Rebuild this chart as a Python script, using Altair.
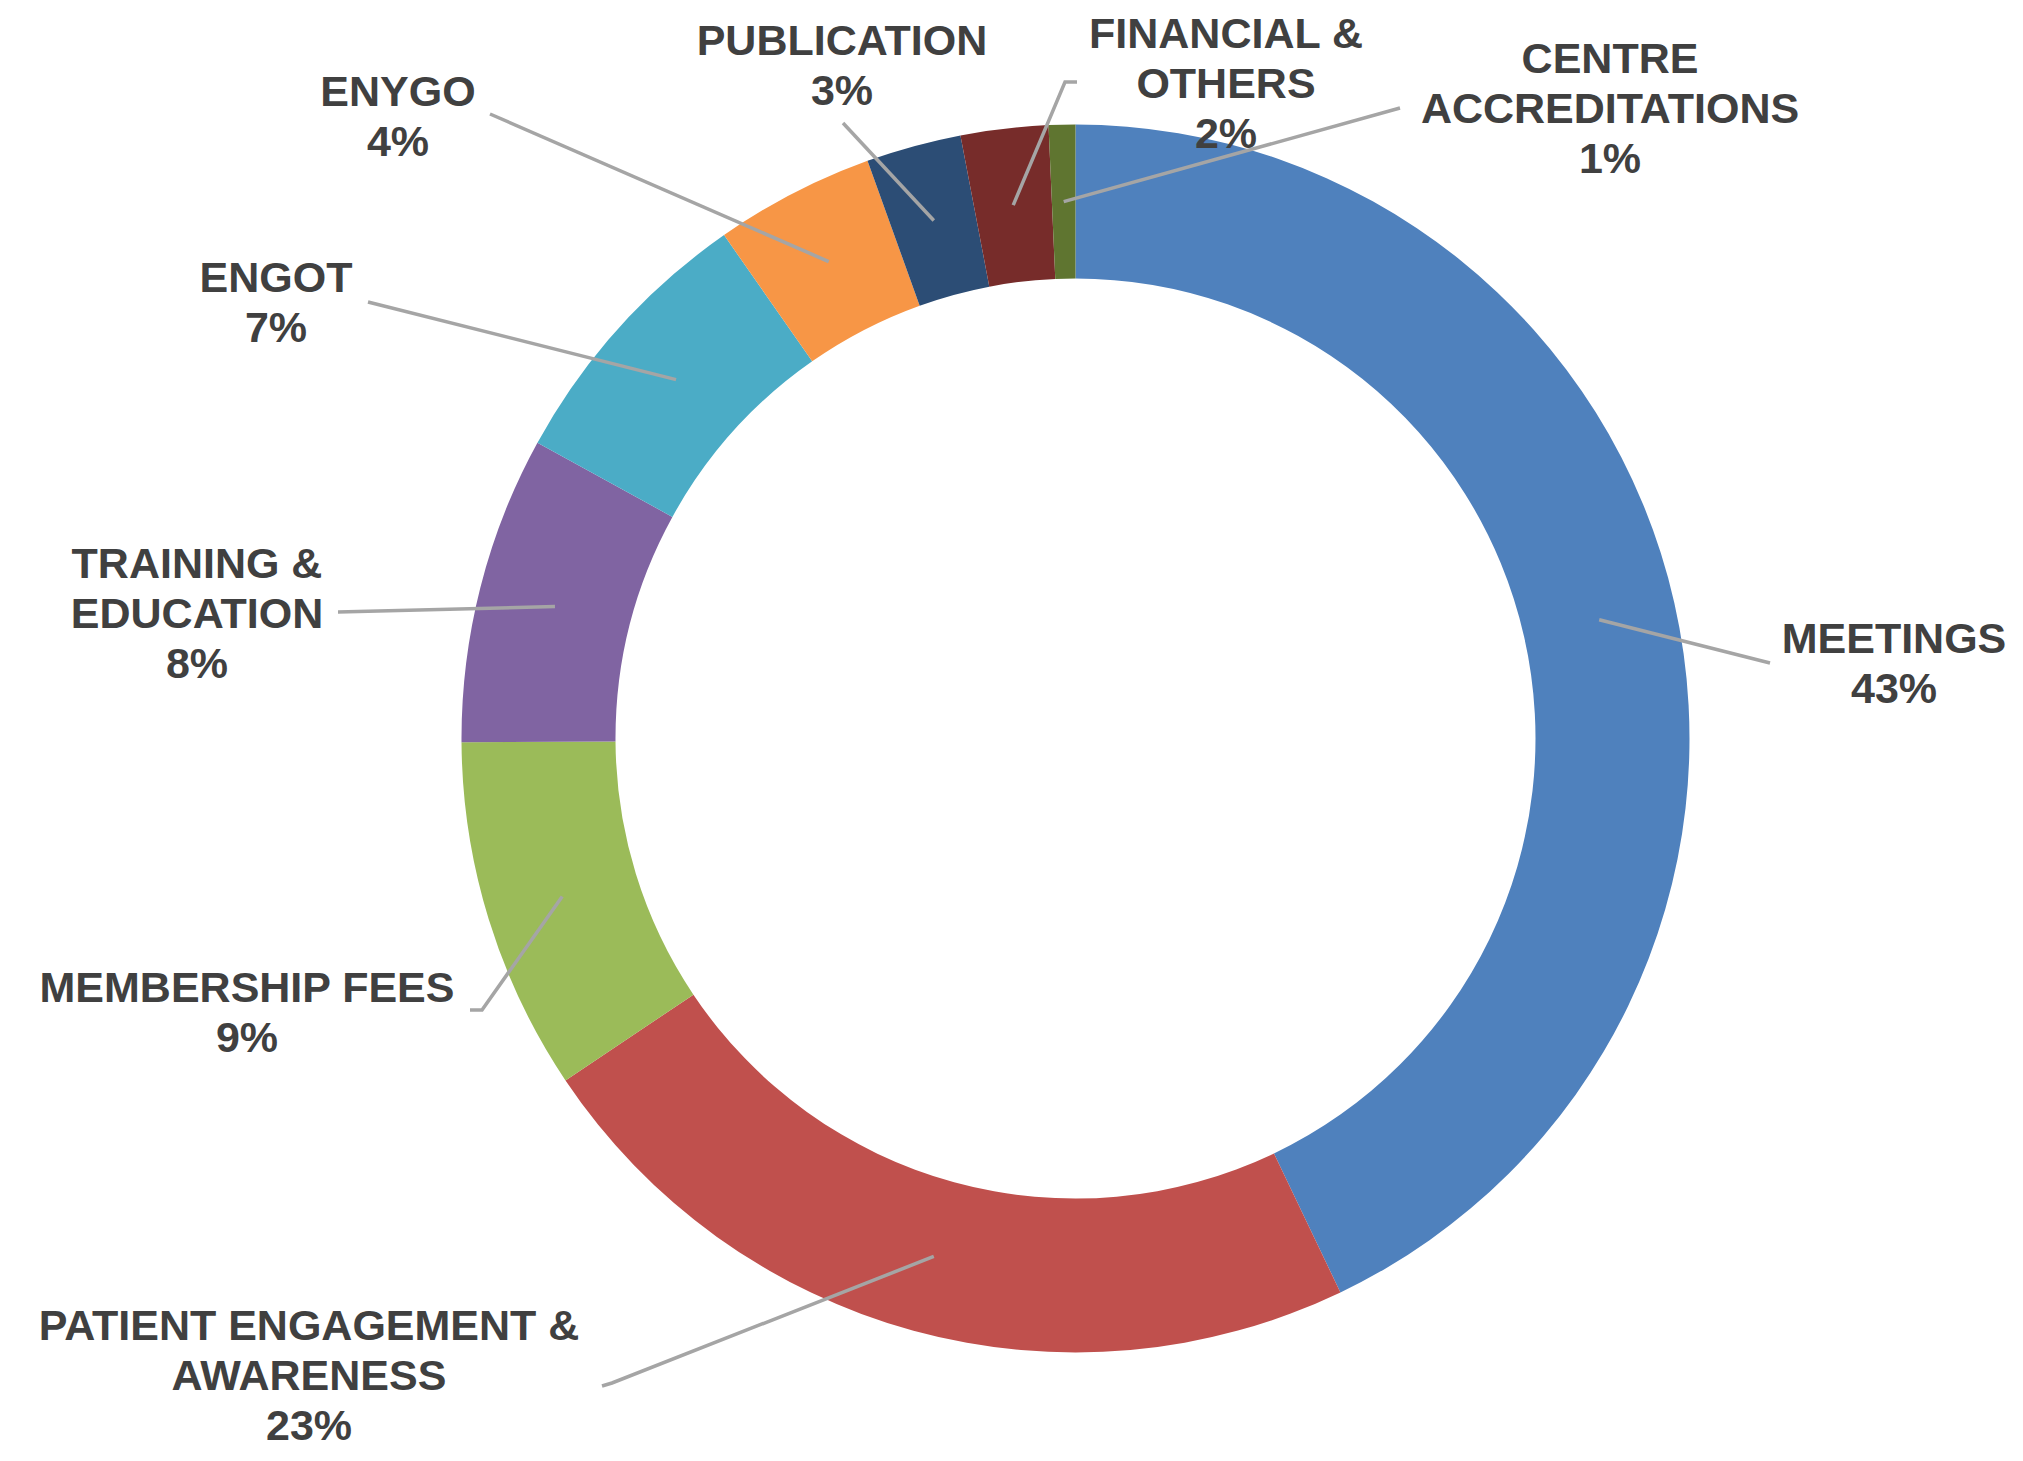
import math
import altair as alt
import pandas as pd

# ---- data ----
categories = ["MEETINGS", "PATIENT ENGAGEMENT & AWARENESS", "MEMBERSHIP FEES",
              "TRAINING & EDUCATION", "ENGOT", "ENYGO", "PUBLICATION",
              "FINANCIAL & OTHERS", "CENTRE ACCREDITATIONS"]
values = [42.9, 22.7, 9.3, 8.1, 7.3, 4.2, 2.5, 2.3, 0.7]
pct_labels = ["43%", "23%", "9%", "8%", "7%", "4%", "3%", "2%", "1%"]
label_lines = ["MEETINGS", "PATIENT ENGAGEMENT &\nAWARENESS", "MEMBERSHIP FEES",
               "TRAINING &\nEDUCATION", "ENGOT", "ENYGO", "PUBLICATION",
               "FINANCIAL &\nOTHERS", "CENTRE\nACCREDITATIONS"]
colors = ["#4F81BD", "#C0504D", "#9BBB59", "#8064A2", "#4BACC6",
          "#F79646", "#2C4D75", "#772C2A", "#5F7530"]

# ---- layout (page pixels) ----
W, H = 2000, 1443
CX, CY = 1075.5, 738.5
R_OUT, R_IN = 614, 460
R_MID = (R_OUT + R_IN) / 2
label_pos = {  # centre x, baseline of first line
    "MEETINGS": (1894, 653),
    "PATIENT ENGAGEMENT & AWARENESS": (309, 1340),
    "MEMBERSHIP FEES": (247, 1002),
    "TRAINING & EDUCATION": (197, 578),
    "ENGOT": (276, 292),
    "ENYGO": (398, 106),
    "PUBLICATION": (842, 55),
    "FINANCIAL & OTHERS": (1226, 48),
    "CENTRE ACCREDITATIONS": (1610, 73),
}
leader_ends = {  # outer path of leader line
    "MEETINGS": [(1770, 663)],
    "PATIENT ENGAGEMENT & AWARENESS": [(612, 1383), (602, 1386)],
    "MEMBERSHIP FEES": [(482, 1010), (470, 1010)],
    "TRAINING & EDUCATION": [(338, 612)],
    "ENGOT": [(368, 302)],
    "ENYGO": [(490, 114)],
    "PUBLICATION": [(843, 123)],
    "FINANCIAL & OTHERS": [(1065, 82), (1077, 82)],
    "CENTRE ACCREDITATIONS": [(1400, 108)],
}

total = sum(values)
arc_rows, line_rows, text_rows = [], [], []
cum = 0.0
for i, (c, v) in enumerate(zip(categories, values)):
    mid = (cum + v / 2) / total * 2 * math.pi
    cum += v
    arc_rows.append({"cat": c, "value": v, "order": i, "cx": CX, "cy": CY})
    px = CX + R_MID * math.sin(mid)
    py = CY - R_MID * math.cos(mid)
    pts = [(px, py)] + leader_ends[c]
    for j, (x, y) in enumerate(pts):
        line_rows.append({"cat": c, "k": j, "x": x, "y": y})
    lx, ly = label_pos[c]
    text_rows.append({"cat": c, "x": lx, "y": ly,
                      "txt": label_lines[i] + "\n" + pct_labels[i]})

arc_df = pd.DataFrame(arc_rows)
line_df = pd.DataFrame(line_rows)
text_df = pd.DataFrame(text_rows)

xs = alt.Scale(domain=[8, 8 + W])
ys = alt.Scale(domain=[8, 8 + H], reverse=True)

arcs = alt.Chart(arc_df).mark_arc(innerRadius=R_IN, outerRadius=R_OUT).encode(
    theta=alt.Theta("value:Q", stack=True),
    order=alt.Order("order:Q"),
    color=alt.Color("cat:N", scale=alt.Scale(domain=categories, range=colors), legend=None),
    x=alt.X("cx:Q", scale=xs, axis=None),
    y=alt.Y("cy:Q", scale=ys, axis=None),
)

lines = alt.Chart(line_df).mark_line(color="#A5A5A5", strokeWidth=3.5).encode(
    x=alt.X("x:Q", scale=xs, axis=None),
    y=alt.Y("y:Q", scale=ys, axis=None),
    detail="cat:N",
    order="k:Q",
)

texts = alt.Chart(text_df).mark_text(
    font="Liberation Sans", fontWeight="bold", fontSize=43, color="#404040",
    align="center", baseline="alphabetic", lineBreak="\n", lineHeight=50,
).encode(
    x=alt.X("x:Q", scale=xs, axis=None),
    y=alt.Y("y:Q", scale=ys, axis=None),
    text="txt:N",
)

chart = alt.layer(arcs, lines, texts).properties(
    width=W, height=H, autosize=alt.AutoSizeParams(type="none"), padding=0,
    background="white",
).configure_view(stroke=None)

chart.save("out.html", embed_options={"renderer": "svg", "actions": False})
